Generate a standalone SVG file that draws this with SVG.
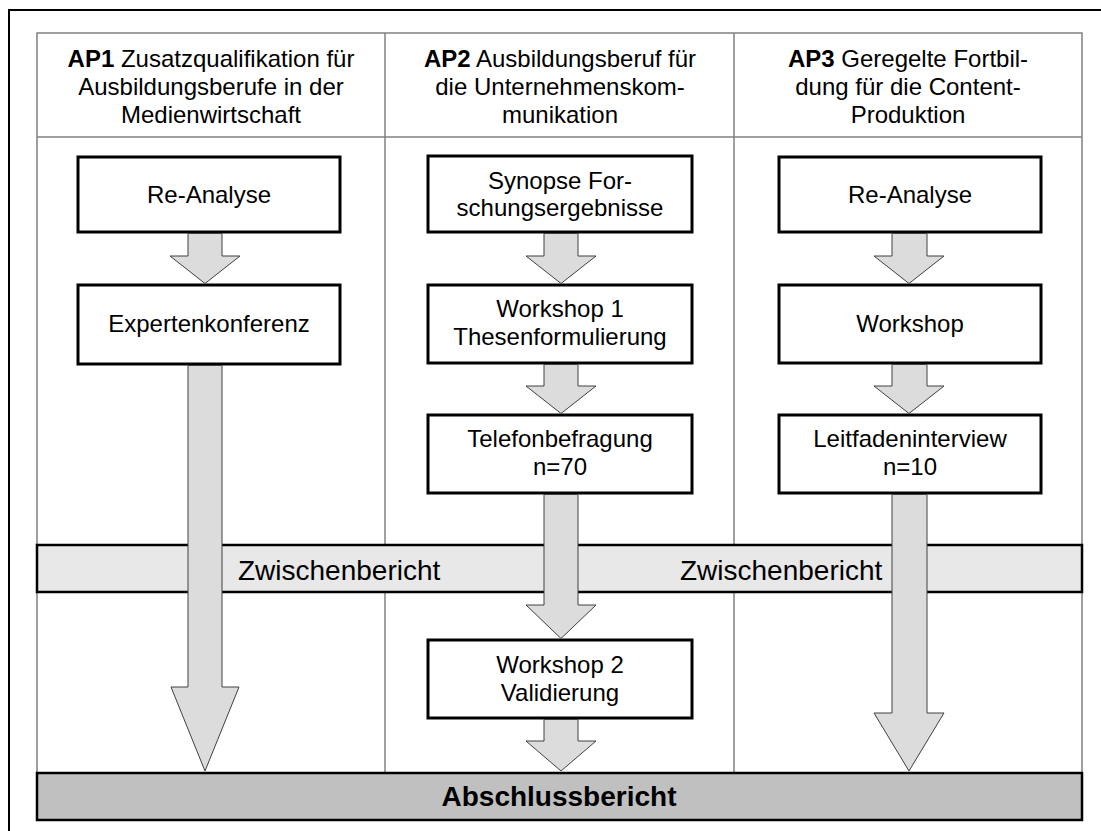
<svg xmlns="http://www.w3.org/2000/svg" width="1101" height="831" viewBox="0 0 1101 831">
<style>
text{font-family:"Liberation Sans",Arial,sans-serif;fill:#000}
.h{font-size:24px;text-anchor:middle}
.t{font-size:24px;text-anchor:middle}
.b{font-weight:bold}
.grid{stroke:#808080;stroke-width:1.5;fill:none}
.box{fill:#fff;stroke:#000;stroke-width:3}
.arr{fill:#dcdcdc;stroke:#404040;stroke-width:1}
.band{stroke:#000;stroke-width:2.5}
</style>
<rect x="9" y="10" width="1100" height="830" fill="#fff" stroke="#000" stroke-width="2"/>
<g id="table">
<rect class="grid" x="37" y="33" width="1045" height="740"/>
<line class="grid" x1="37" y1="137" x2="1082" y2="137"/>
<line class="grid" x1="385" y1="33" x2="385" y2="773"/>
<line class="grid" x1="734" y1="33" x2="734" y2="773"/>
</g>
<g id="header-ap1">
<text class="h" x="211" y="67"><tspan class="b">AP1</tspan> Zusatzqualifikation für</text>
<text class="h" x="211" y="95">Ausbildungsberufe in der</text>
<text class="h" x="211" y="123">Medienwirtschaft</text>
</g>
<g id="header-ap2">
<text class="h" x="560" y="67"><tspan class="b">AP2</tspan> Ausbildungsberuf für</text>
<text class="h" x="560" y="95">die Unternehmenskom-</text>
<text class="h" x="560" y="123">munikation</text>
</g>
<g id="header-ap3">
<text class="h" x="908" y="67"><tspan class="b">AP3</tspan> Geregelte Fortbil-</text>
<text class="h" x="908" y="95">dung für die Content-</text>
<text class="h" x="908" y="123">Produktion</text>
</g>
<g id="zwischenbericht">
<rect class="band" x="37" y="545" width="1045" height="47" fill="#e8e8e8"/>
<text x="238" y="580" font-size="28">Zwischenbericht</text>
<text x="680" y="580" font-size="28">Zwischenbericht</text>
</g>
<g id="abschlussbericht">
<rect class="band" x="37" y="773" width="1045" height="47" fill="#c0c0c0"/>
<text x="559" y="806" font-size="28" font-weight="bold" text-anchor="middle">Abschlussbericht</text>
</g>
<g id="n-reanalyse1">
<rect class="box" x="78" y="157" width="262" height="75"/>
<text class="t" x="209" y="203">Re-Analyse</text>
</g>
<g id="n-expertenkonferenz">
<rect class="box" x="78" y="285" width="262" height="79"/>
<text class="t" x="209" y="332">Expertenkonferenz</text>
</g>
<g id="n-synopse">
<rect class="box" x="428" y="156" width="264" height="76"/>
<text class="t" x="560" y="189">Synopse For-</text>
<text class="t" x="560" y="216">schungsergebnisse</text>
</g>
<g id="n-workshop1">
<rect class="box" x="428" y="285" width="264" height="78"/>
<text class="t" x="560" y="317">Workshop 1</text>
<text class="t" x="560" y="345">Thesenformulierung</text>
</g>
<g id="n-telefon">
<rect class="box" x="428" y="415" width="264" height="78"/>
<text class="t" x="560" y="447">Telefonbefragung</text>
<text class="t" x="560" y="475">n=70</text>
</g>
<g id="n-workshop2">
<rect class="box" x="428" y="640" width="264" height="78"/>
<text class="t" x="560" y="673">Workshop 2</text>
<text class="t" x="560" y="701">Validierung</text>
</g>
<g id="n-reanalyse3">
<rect class="box" x="779" y="157" width="262" height="75"/>
<text class="t" x="910" y="203">Re-Analyse</text>
</g>
<g id="n-workshop">
<rect class="box" x="779" y="285" width="262" height="78"/>
<text class="t" x="910" y="332">Workshop</text>
</g>
<g id="n-leitfaden">
<rect class="box" x="779" y="415" width="262" height="78"/>
<text class="t" x="910" y="447">Leitfadeninterview</text>
<text class="t" x="910" y="475">n=10</text>
</g>
<g id="connectors">
<polygon class="arr" points="188,233.5 222,233.5 222,256 240,256 205,283.5 170,256 188,256"/>
<polygon class="arr" points="188,365.5 222,365.5 222,687 239,687 205,771 171,687 188,687"/>
<polygon class="arr" points="544,233.5 578,233.5 578,256 596,256 561,283.5 526,256 544,256"/>
<polygon class="arr" points="544,364.5 578,364.5 578,386 596,386 561,413.5 526,386 544,386"/>
<polygon class="arr" points="544,494.5 578,494.5 578,605 596,605 561,638.5 526,605 544,605"/>
<polygon class="arr" points="544,719.5 578,719.5 578,741 596,741 561,771 526,741 544,741"/>
<polygon class="arr" points="892,233.5 927,233.5 927,256 944,256 909,283.5 874,256 892,256"/>
<polygon class="arr" points="892,364.5 927,364.5 927,386 944,386 909,413.5 874,386 892,386"/>
<polygon class="arr" points="892,494.5 927,494.5 927,713 944,713 909,771 874,713 892,713"/>
</g>
</svg>
